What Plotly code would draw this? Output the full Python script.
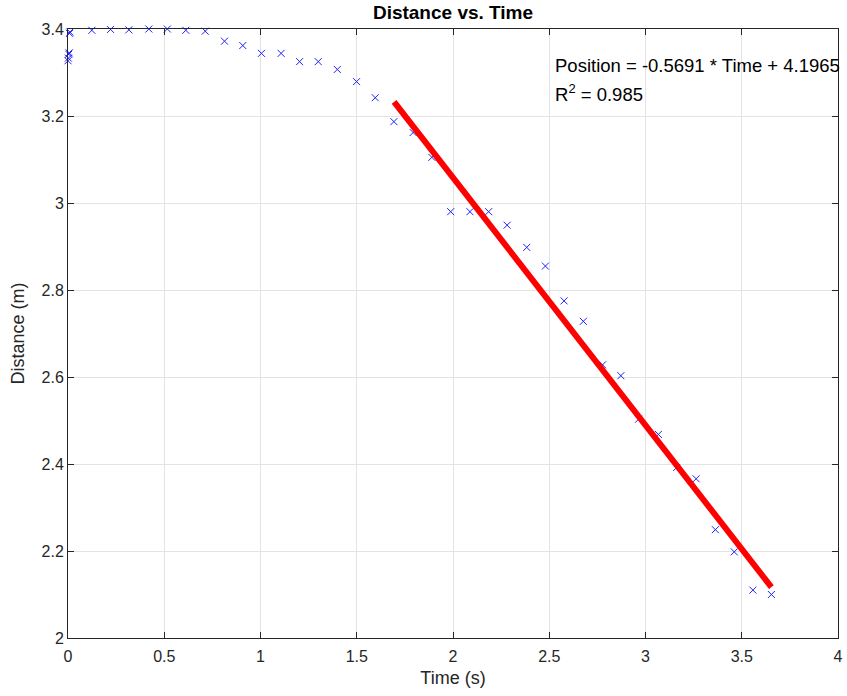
import plotly.graph_objects as go

time_s = [0.0, 0.002, 0.004, 0.006, 0.008, 0.010,
          0.124, 0.221, 0.316, 0.420, 0.516, 0.612, 0.713, 0.813, 0.908,
          1.005, 1.107, 1.203, 1.300, 1.399, 1.499, 1.596, 1.693, 1.793,
          1.890, 1.988, 2.088, 2.185, 2.281, 2.383, 2.480, 2.577, 2.677,
          2.777, 2.872, 2.964, 3.067, 3.162, 3.263, 3.363, 3.461, 3.558, 3.654]
distance_m = [3.327, 3.333, 3.342, 3.345, 3.390, 3.393,
              3.397, 3.399, 3.398, 3.400, 3.400, 3.397, 3.395, 3.372, 3.362,
              3.344, 3.344, 3.325, 3.325, 3.307, 3.279, 3.242, 3.187, 3.162,
              3.105, 2.980, 2.980, 2.980, 2.949, 2.898, 2.855, 2.775, 2.728,
              2.628, 2.603, 2.503, 2.468, 2.392, 2.366, 2.249, 2.198, 2.110, 2.100]

fit_time = [1.694, 3.654]
fit_pos = [3.2324, 2.1170]

x_ticks = [0, 0.5, 1, 1.5, 2, 2.5, 3, 3.5, 4]
y_ticks = [2, 2.2, 2.4, 2.6, 2.8, 3, 3.2, 3.4]

FONT = "Liberation Sans, Arial, Helvetica, sans-serif"

fig = go.Figure()
fig.add_trace(go.Scatter(
    x=time_s, y=distance_m, mode="markers",
    marker=dict(symbol="x-thin", size=7, line=dict(color="#2020ff", width=1)),
    showlegend=False, cliponaxis=False,
))
fig.add_trace(go.Scatter(
    x=fit_time, y=fit_pos, mode="lines",
    line=dict(color="#ff0000", width=6),
    showlegend=False,
))

axis_common = dict(
    showline=True, linecolor="#262626", linewidth=1, mirror="ticks",
    ticks="inside", ticklen=6, tickcolor="#262626",
    showgrid=True, gridcolor="#e3e3e3", gridwidth=1,
    zeroline=False, automargin=False,
    tickfont=dict(family=FONT, size=16, color="#262626"),
)

fig.update_xaxes(range=[0, 4], tickvals=x_ticks, ticklabelstandoff=4,
                 title=dict(text="Time (s)", font=dict(family=FONT, size=18, color="#262626"), standoff=7),
                 **axis_common)
fig.update_yaxes(range=[2, 3.4], tickvals=y_ticks,
                 title=dict(text="Distance (m)", font=dict(family=FONT, size=18, color="#262626"), standoff=12),
                 **axis_common)

fig.add_annotation(
    x=2.52, y=3.316, xref="x", yref="y", xanchor="left", yanchor="middle",
    text="Position = -0.5691 * Time + 4.1965", showarrow=False,
    font=dict(family=FONT, size=18.5, color="#000000"),
)
fig.add_annotation(
    x=2.52, y=3.252, xref="x", yref="y", xanchor="left", yanchor="middle",
    text="R<sup>2</sup> = 0.985", showarrow=False,
    font=dict(family=FONT, size=18.5, color="#000000"),
)

fig.update_layout(
    width=847, height=696,
    margin=dict(l=68, r=9, t=29, b=58),
    paper_bgcolor="white", plot_bgcolor="white",
    title=dict(text="<b>Distance vs. Time</b>", x=0.5 * (68 + 838) / 847, xanchor="center",
               y=1 - 12 / 696, yanchor="middle",
               font=dict(family=FONT, size=19, color="#000000")),
)

fig.write_html("out.html", config={"displayModeBar": False},
               post_script="document.body.style.margin='0';document.body.style.overflow='hidden';")
